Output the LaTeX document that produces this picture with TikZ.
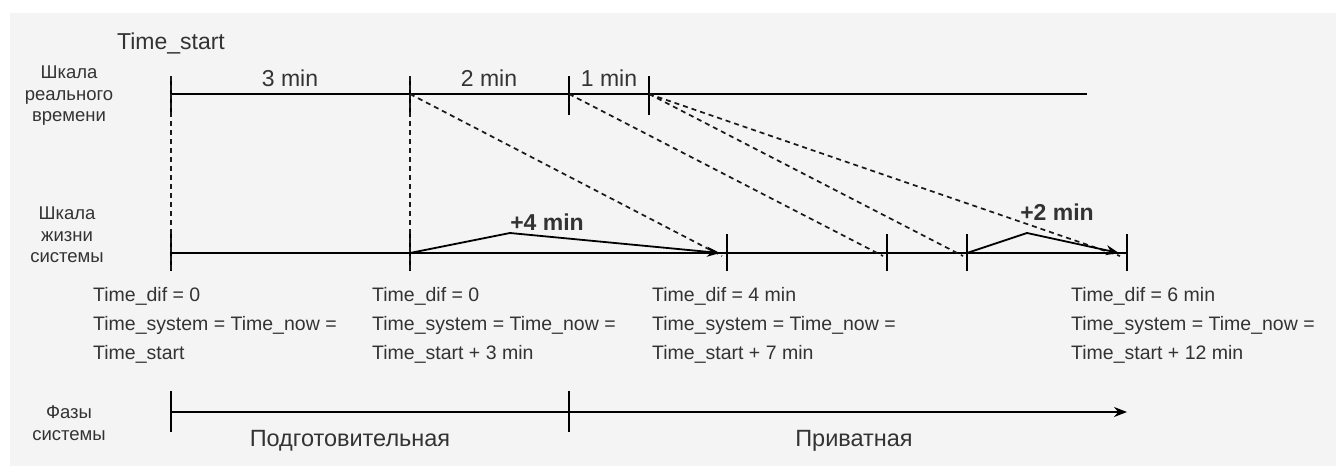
\documentclass[tikz,border=0pt]{standalone}
\usepackage{fontspec}
\setmainfont{Liberation Sans}
\usetikzlibrary{arrows.meta}
\definecolor{bgc}{HTML}{F4F4F4}
\definecolor{txt}{HTML}{333333}
\tikzset{
  axis/.style={line width=1.7pt, black},
  tick/.style={line width=1.7pt, black},
  guide/.style={line width=1.7pt, dash pattern=on 5pt off 4pt, black!90},
  jump/.style={line width=1.8pt, -{Stealth[length=13pt,width=10pt]}},
  lbl/.style={text=txt, font=\fontsize{23}{25}\selectfont, inner sep=0pt},
  side/.style={text=txt, font=\fontsize{18.5}{21.5}\selectfont, align=center, inner sep=0pt},
  info/.style={text=txt, font=\fontsize{19.5}{29}\selectfont, align=left, anchor=west, inner sep=0pt},
  bump/.style={text=txt, font=\bfseries\fontsize{23}{25}\selectfont, inner sep=0pt},
  phase/.style={text=txt, font=\fontsize{23.5}{25}\selectfont, inner sep=0pt},
}
\begin{document}
\begin{tikzpicture}[x=1pt,y=-1pt]
  \useasboundingbox (0,0) rectangle (1336,466);
  \fill[white] (0,0) rectangle (1336,466);
  \fill[bgc] (10,13) rectangle (1336,466);

  % real-time scale
  \coordinate (r0) at (171,94);
  \coordinate (r1) at (410,94);
  \coordinate (r2) at (569,94);
  \coordinate (r3) at (649,94);
  \coordinate (rend) at (1087,94);
  \draw[axis] (r0) -- (rend);
  \foreach \p in {r0,r1,r2,r3} \draw[tick] ([yshift=-21pt]\p) -- ([yshift=18pt]\p);

  % system-life scale
  \coordinate (s0) at (171,253);
  \coordinate (s1) at (410,253);
  \coordinate (s2) at (727,253);
  \coordinate (s3) at (887,253);
  \coordinate (s4) at (967,253);
  \coordinate (s5) at (1127,253);
  \draw[axis] (s0) -- (s5);
  \foreach \p in {s0,s1,s2,s3,s4,s5} \draw[tick] ([yshift=-18pt]\p) -- ([yshift=19pt]\p);

  % projections from real time to system time
  \draw[guide] ([yshift=18pt]r0) -- ([yshift=-18pt]s0);
  \draw[guide] ([yshift=18pt]r1) -- ([yshift=-18pt]s1);
  \draw[guide] (r1) -- ([xshift=-5pt,yshift=-3pt]s2);
  \draw[guide] (r2) -- ([xshift=-4pt,yshift=-3pt]s3);
  \draw[guide] (r3) -- ([xshift=-4pt,yshift=-3pt]s4);
  \draw[guide] (r3) -- ([xshift=-7pt,yshift=-3pt]s5);

  % time jumps
  \coordinate (b1) at (510,233);
  \coordinate (b2) at (1027,233);
  \draw[jump] (s1) -- (b1) -- ([xshift=-7pt]s2);
  \draw[jump] (s4) -- (b2) -- ([xshift=-8pt]s5);
  \node[bump] (j1) at (547,222) {+4 min};
  \node[bump] (j2) at (1057,212) {+2 min};

  % interval labels
  \node[lbl] (t0) at (171,43) {Time\_start};
  \node[lbl] (d1) at (290,78) {3 min};
  \node[lbl] (d2) at (489,78) {2 min};
  \node[lbl] (d3) at (609,78) {1 min};

  % row titles
  \node[side] (h1) at (69,96) {Шкала\\реального\\времени};
  \node[side] (h2) at (67,235) {Шкала\\жизни\\системы};
  \node[side] (h3) at (69,423) {Фазы\\системы};

  % state descriptions
  \node[info] (i1) at (93,325) {Time\_dif = 0\\Time\_system = Time\_now =\\Time\_start};
  \node[info] (i2) at (372,325) {Time\_dif = 0\\Time\_system = Time\_now =\\Time\_start + 3 min};
  \node[info] (i3) at (652,325) {Time\_dif = 4 min\\Time\_system = Time\_now =\\Time\_start + 7 min};
  \node[info] (i4) at (1071,325) {Time\_dif = 6 min\\Time\_system = Time\_now =\\Time\_start + 12 min};

  % system phases
  \coordinate (p0) at (171,412);
  \coordinate (p1) at (569,412);
  \coordinate (p2) at (1127,412);
  \draw[axis, -{Stealth[length=13pt,width=10pt]}] (p0) -- (p2);
  \draw[tick] ([yshift=-20pt]p0) -- ([yshift=21pt]p0);
  \draw[tick] ([yshift=-20pt]p1) -- ([yshift=21pt]p1);
  \node[phase] (f1) at (350,441) {Подготовительная};
  \node[phase] (f2) at (854,441) {Приватная};
\end{tikzpicture}
\end{document}
